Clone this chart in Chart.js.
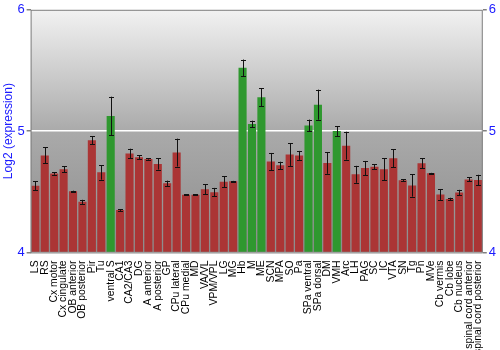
<!DOCTYPE html>
<html>
<head>
<meta charset="utf-8">
<script src="https://cdn.jsdelivr.net/npm/chart.js@4/dist/chart.umd.min.js"></script>
<style>
  html, body { margin: 0; padding: 0; background: #fff; }
  #wrap { width: 500px; height: 350px; }
</style>
</head>
<body>
<div id="wrap"><canvas id="exprChart"></canvas></div>
<script>
// Regions along the x axis, in the order drawn.
const REGIONS = [
  "LS", "RS", "Cx motor", "Cx cingulate", "OB anterior", "OB posterior", "Pir", "Tu",
  "ventral S", "CA1", "CA2/CA3", "DG", "A anterior", "A posterior", "GP", "CPu lateral",
  "CPu medial", "MD", "VA/VL", "VPM/VPL", "LG", "MG", "Hb", "M", "ME", "SCN", "MPA",
  "SO", "Pa", "SPa ventral", "SPa dorsal", "DM", "VMH", "Arc", "LH", "PAG", "SC", "IC",
  "VTA", "SN", "Tg", "Pn", "MVe", "Cb vermis", "Cb lobe", "Cb nucleus",
  "spinal cord anterior", "spinal cord posterior",
];

// Log2 expression.
const EXPRESSION = [
  4.55, 4.80, 4.65, 4.685, 4.505, 4.417, 4.925, 4.66,
  5.124, 4.35, 4.815, 4.785, 4.77, 4.73, 4.57, 4.823,
  4.475, 4.475, 4.52, 4.497, 4.583, 4.586, 5.522, 5.058, 5.279, 4.75, 4.718,
  4.807, 4.80, 5.047, 5.218, 4.738, 5.0, 4.88, 4.644, 4.696, 4.707, 4.685,
  4.776, 4.594, 4.552, 4.735, 4.652, 4.478, 4.44, 4.494,
  4.602, 4.597,
];

// Half-height of each error bar.
const ERRORS = [
  0.035, 0.065, 0.01, 0.025, 0.004, 0.017, 0.033, 0.06,
  0.16, 0.008, 0.04, 0.017, 0.005, 0.047, 0.022, 0.115,
  0.005, 0.005, 0.04, 0.035, 0.047, 0.004, 0.068, 0.028, 0.075, 0.07, 0.03,
  0.094, 0.037, 0.048, 0.124, 0.09, 0.04, 0.115, 0.07, 0.058, 0.02, 0.092,
  0.075, 0.008, 0.092, 0.04, 0.004, 0.045, 0.011, 0.022,
  0.017, 0.043,
];

// Regions drawn in green.
const HIGHLIGHTED = ["ventral S", "Hb", "M", "ME", "SPa ventral", "SPa dorsal", "VMH"];

const Y_TICKS = [4, 5, 6];

const RED = ["#cc5252", "#ab3535", "#841c1c"];
const GREEN = ["#48b448", "#2f982f", "#1c781c"];
const AXIS_BLUE = "#1a1aff";

function barFill(ctx) {
  const chart = ctx.chart;
  const cols = HIGHLIGHTED.includes(REGIONS[ctx.dataIndex]) ? GREEN : RED;
  const el = ctx.element;
  if (!chart.chartArea || !el || !el.width) return cols[1];
  const left = el.x - el.width / 2;
  const g = chart.ctx.createLinearGradient(left, 0, left + el.width, 0);
  g.addColorStop(0, cols[0]);
  g.addColorStop(0.5, cols[1]);
  g.addColorStop(1, cols[2]);
  return g;
}

// grey plot background, light at the top and darker towards the bottom
const plotBackground = {
  id: "plotBackground",
  beforeDraw(chart) {
    const { ctx, chartArea: a } = chart;
    const g = ctx.createLinearGradient(0, a.top, 0, a.bottom);
    g.addColorStop(0, "#f2f2f2");
    g.addColorStop(0.5, "#aaaaaa");
    g.addColorStop(1, "#8c8c8c");
    ctx.save();
    ctx.fillStyle = g;
    ctx.fillRect(a.left, a.top, a.right - a.left, a.bottom - a.top);
    ctx.restore();
  },
  afterDraw(chart) {
    const { ctx, chartArea: a } = chart;
    ctx.save();
    ctx.strokeStyle = "#808080";
    ctx.lineWidth = 1;
    ctx.strokeRect(a.left + 0.5, a.top + 0.5, a.right - a.left - 1, a.bottom - a.top);
    ctx.restore();
  },
};

const errorBars = {
  id: "errorBars",
  afterDatasetsDraw(chart) {
    const { ctx } = chart;
    const y = chart.scales.y;
    const meta = chart.getDatasetMeta(0);
    ctx.save();
    ctx.strokeStyle = "#111";
    ctx.lineWidth = 1;
    meta.data.forEach((bar, i) => {
      const x = Math.round(bar.x) + 0.5;
      const top = y.getPixelForValue(EXPRESSION[i] + ERRORS[i]);
      const bot = y.getPixelForValue(EXPRESSION[i] - ERRORS[i]);
      ctx.beginPath();
      ctx.moveTo(x, top);
      ctx.lineTo(x, bot);
      ctx.moveTo(x - 2.5, Math.round(top) + 0.5);
      ctx.lineTo(x + 2.5, Math.round(top) + 0.5);
      ctx.moveTo(x - 2.5, Math.round(bot) + 0.5);
      ctx.lineTo(x + 2.5, Math.round(bot) + 0.5);
      ctx.stroke();
    });
    ctx.restore();
  },
};

const valueAxis = (position) => ({
  position,
  min: 4,
  max: 6,
  afterBuildTicks: (axis) => { axis.ticks = Y_TICKS.map((v) => ({ value: v })); },
  ticks: { color: AXIS_BLUE, font: { family: "Liberation Sans", size: 13 }, padding: 2 },
  grid: {
    color: (c) => (c.tick && c.tick.value === 5 && position === "left" ? "#ffffff" : "rgba(0,0,0,0)"),
    lineWidth: 1.5,
    tickColor: "#808080",
    tickLength: 4,
    drawOnChartArea: true,
  },
  border: { display: false },
});

new Chart(document.getElementById("exprChart"), {
  type: "bar",
  data: {
    labels: REGIONS,
    datasets: [{
      data: EXPRESSION,
      base: 4,
      backgroundColor: barFill,
      borderWidth: 0,
      barPercentage: 0.86,
      categoryPercentage: 1,
    }],
  },
  options: {
    responsive: true,
    maintainAspectRatio: false,
    animation: false,
    layout: { padding: { top: 6, right: 2, left: 1, bottom: -4 } },
    plugins: { legend: { display: false }, tooltip: { enabled: false } },
    scales: {
      x: {
        ticks: {
          color: "#000",
          font: { family: "Liberation Sans", size: 10.4 },
          minRotation: 90,
          maxRotation: 90,
          autoSkip: false,
          padding: 0,
        },
        grid: { display: false },
        border: { display: false },
      },
      y: {
        ...valueAxis("left"),
        title: {
          display: true,
          text: "Log2 (expression)",
          color: AXIS_BLUE,
          font: { family: "Liberation Sans", size: 12 },
          padding: 0,
        },
      },
      y2: valueAxis("right"),
    },
  },
  plugins: [plotBackground, errorBars],
});
</script>
</body>
</html>
